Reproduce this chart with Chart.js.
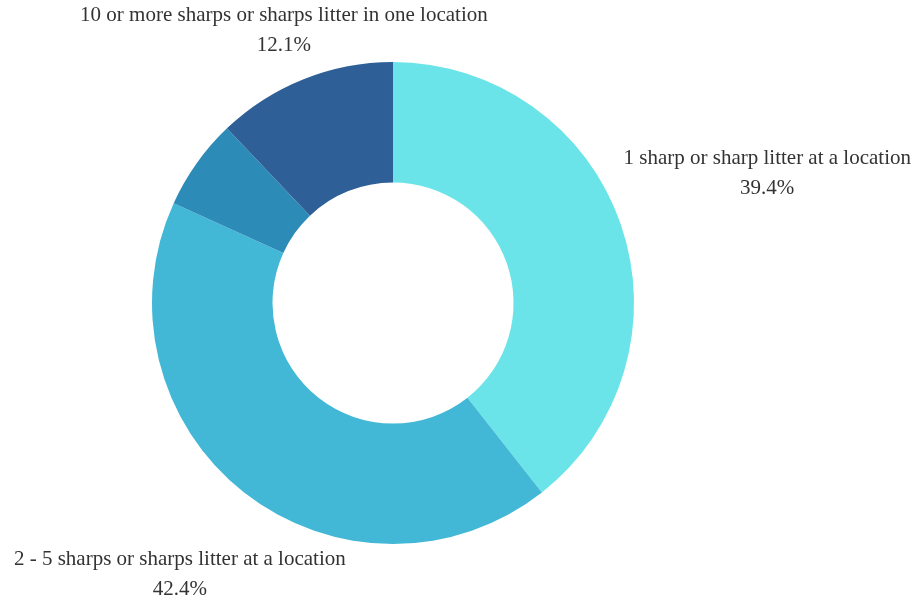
<!DOCTYPE html>
<html>
<head>
<meta charset="utf-8">
<script src="https://cdn.jsdelivr.net/npm/chart.js@4"></script>
<style>
  html, body { margin: 0; padding: 0; background: #fff; }
  #wrap { width: 915px; height: 600px; }
</style>
</head>
<body>
<div id="wrap"><canvas id="chart"></canvas></div>
<script>
// données
const categories = [
    '1 sharp or sharp litter at a location',
    '2 - 5 sharps or sharps litter at a location',
    '6 - 9 sharps or sharps litter at a location',
    '10 or more sharps or sharps litter in one location'
];
const values = [39.4, 42.4, 6.1, 12.1];
const showLabel = [true, true, false, true];
const colors = ['#6ae4e8', '#43b8d6', '#2d8bb8', '#2e5f96'];

// étiquettes extérieures : placées le long de l'angle médian de chaque part
const outLabels = {
    id: 'outLabels',
    afterDatasetsDraw(chart, args, opts) {
        const ctx = chart.ctx;
        const meta = chart.getDatasetMeta(0);
        ctx.save();
        ctx.fillStyle = opts.color;
        ctx.font = opts.font;
        ctx.textAlign = 'center';
        ctx.textBaseline = 'middle';
        meta.data.forEach((arc, i) => {
            if (!showLabel[i]) return;
            const mid = (arc.startAngle + arc.endAngle) / 2;
            const r = opts.radius[i];
            const x = arc.x + Math.cos(mid) * r;
            const y = arc.y + Math.sin(mid) * r;
            ctx.fillText(categories[i], x, y - opts.lineGap / 2);
            ctx.fillText(values[i].toFixed(1) + '%', x, y + opts.lineGap / 2);
        });
        ctx.restore();
    }
};

new Chart(document.getElementById('chart'), {
    type: 'doughnut',
    data: {
        labels: categories,
        datasets: [{ data: values, backgroundColor: colors, borderWidth: 0 }]
    },
    options: {
        responsive: true,
        maintainAspectRatio: false,
        animation: false,
        cutout: '50%',
        events: [],
        layout: { padding: { top: 62, bottom: 56, left: 152, right: 281 } },
        plugins: {
            legend: { display: false },
            tooltip: { enabled: false },
            outLabels: {
                color: '#333',
                font: '21px "Liberation Serif", "DejaVu Serif", serif',
                lineGap: 30,
                radius: [396, 345, 0, 294]
            }
        }
    },
    plugins: [outLabels]
});
</script>
</body>
</html>
